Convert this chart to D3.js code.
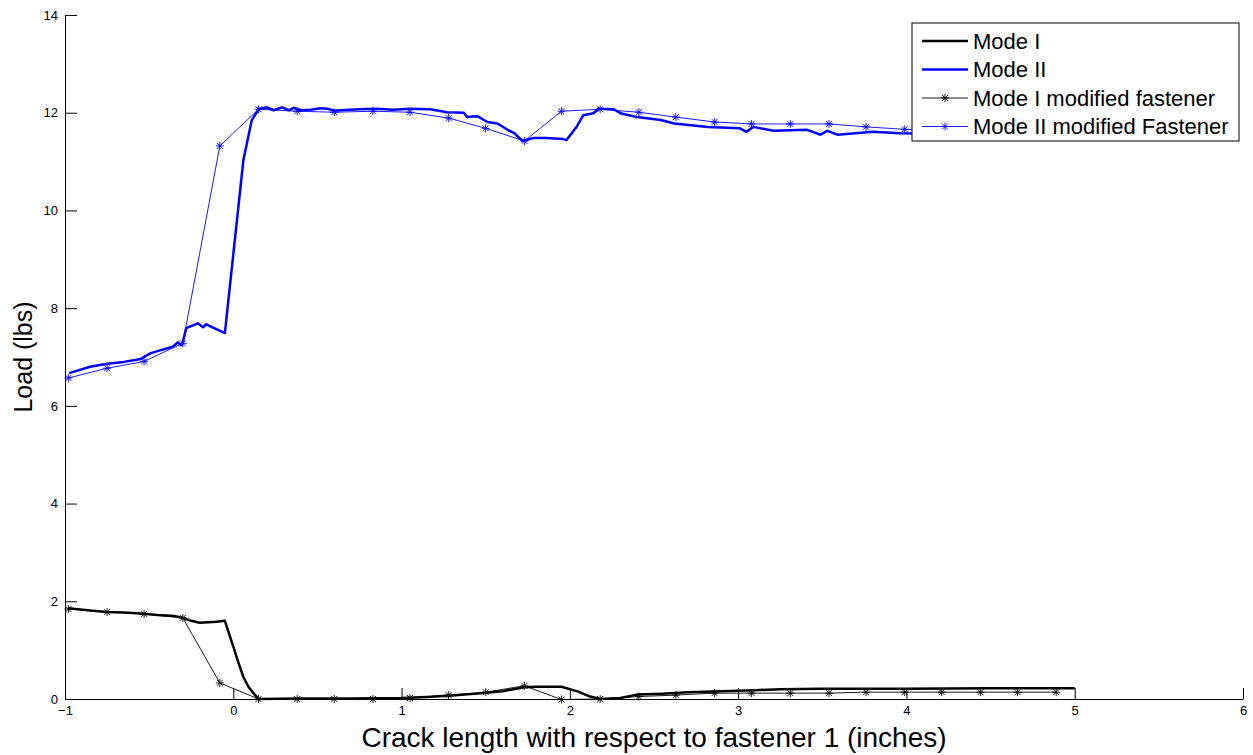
<!DOCTYPE html>
<html>
<head>
<meta charset="utf-8">
<script src="https://cdn.jsdelivr.net/npm/d3@7"></script>
<style>
  body { margin: 0; background: #fff; }
  svg { display: block; font-family: "Liberation Sans", Arial, sans-serif; }
</style>
</head>
<body>
<script>
// crack position (inches) and load (lbs)
var modeI = [
    [-0.98, 1.86], [-0.85, 1.81], [-0.75, 1.78], [-0.65, 1.77], [-0.55, 1.75],
    [-0.45, 1.72], [-0.35, 1.70], [-0.30, 1.66], [-0.25, 1.60], [-0.20, 1.56],
    [-0.15, 1.57], [-0.10, 1.58], [-0.05, 1.60], [0.00, 1.07], [0.03, 0.75],
    [0.06, 0.45], [0.09, 0.25], [0.12, 0.12], [0.15, 0.00], [0.40, 0.01],
    [0.70, 0.01], [1.00, 0.02], [1.15, 0.04], [1.30, 0.07], [1.45, 0.11],
    [1.60, 0.16], [1.73, 0.24], [1.80, 0.25], [1.95, 0.25], [2.05, 0.15],
    [2.12, 0.05], [2.18, 0.00], [2.30, 0.02], [2.40, 0.09], [2.55, 0.11],
    [2.70, 0.14], [2.90, 0.16], [3.10, 0.18], [3.25, 0.20], [3.50, 0.21],
    [4.00, 0.21], [4.50, 0.22], [5.00, 0.22]
];

var modeII = [
    [-0.975, 6.67], [-0.85, 6.80], [-0.75, 6.86], [-0.65, 6.90], [-0.55, 6.96],
    [-0.49, 7.08], [-0.43, 7.14], [-0.36, 7.21], [-0.33, 7.30], [-0.31, 7.24],
    [-0.30, 7.30], [-0.28, 7.59], [-0.21, 7.69], [-0.18, 7.61], [-0.16, 7.67],
    [-0.12, 7.60], [-0.05, 7.49], [0.06, 11.03], [0.11, 11.85], [0.15, 12.07],
    [0.20, 12.11], [0.24, 12.05], [0.29, 12.11], [0.33, 12.05], [0.36, 12.10],
    [0.40, 12.05], [0.46, 12.06], [0.52, 12.09], [0.56, 12.08], [0.60, 12.04],
    [0.64, 12.05], [0.75, 12.07], [0.85, 12.08], [0.95, 12.06], [1.05, 12.08],
    [1.17, 12.07], [1.27, 12.01], [1.37, 12.00], [1.39, 11.91], [1.45, 11.93],
    [1.51, 11.81], [1.57, 11.78], [1.63, 11.65], [1.67, 11.58], [1.72, 11.42],
    [1.78, 11.48], [1.86, 11.48], [1.96, 11.46], [1.98, 11.44], [2.04, 11.71],
    [2.08, 11.95], [2.14, 11.99], [2.17, 12.08], [2.26, 12.07], [2.30, 11.99],
    [2.40, 11.91], [2.54, 11.85], [2.62, 11.78], [2.82, 11.71], [3.01, 11.68],
    [3.05, 11.61], [3.09, 11.71], [3.21, 11.63], [3.41, 11.65], [3.49, 11.55],
    [3.53, 11.63], [3.59, 11.55], [3.80, 11.61], [3.96, 11.58], [4.20, 11.57],
    [4.50, 11.56], [4.80, 11.56], [5.00, 11.55]
];

// the modified fastener runs share one set of crack positions
var modifiedX = [
    -0.98, -0.75, -0.53, -0.30, -0.08, 0.15, 0.38, 0.60, 0.83, 1.05,
    1.28, 1.50, 1.73, 1.95, 2.18, 2.41, 2.63, 2.86, 3.08, 3.31,
    3.54, 3.76, 3.99, 4.21, 4.44, 4.66, 4.89
];
var modeIModified = [
    1.84, 1.78, 1.74, 1.66, 0.33, 0.00, 0.00, 0.00, 0.00, 0.02,
    0.08, 0.14, 0.27, -0.01, 0.00, 0.05, 0.08, 0.12, 0.12, 0.12,
    0.12, 0.14, 0.14, 0.14, 0.14, 0.14, 0.14
];
var modeIIModified = [
    6.57, 6.77, 6.91, 7.28, 11.32, 12.07, 12.03, 12.01, 12.03, 12.01,
    11.89, 11.68, 11.42, 12.03, 12.07, 12.01, 11.91, 11.81, 11.77, 11.77,
    11.77, 11.71, 11.66, 11.63, 11.61, 11.60, 11.58
];

var xTicks = [-1, 0, 1, 2, 3, 4, 5, 6];
var yTicks = [0, 2, 4, 6, 8, 10, 12, 14];

var legendItems = [
    { name: 'Mode I', color: '#000', width: 2.5, marker: false },
    { name: 'Mode II', color: '#0000ff', width: 2.5, marker: false },
    { name: 'Mode I modified fastener', color: '#000', width: 0.9, marker: true },
    { name: 'Mode II modified Fastener', color: '#0000ff', width: 0.9, marker: true }
];

var width = 1253, height = 755;
var margin = { top: 15, right: 10, bottom: 56, left: 65 };

var svg = d3.select('body').append('svg')
    .attr('width', width)
    .attr('height', height);

var x = d3.scaleLinear().domain([-1, 6]).range([margin.left, width - margin.right]);
var y = d3.scaleLinear().domain([0, 14]).range([height - margin.bottom, margin.top]);

// axes, ticks inside the plot area like matlab does
var xAxis = d3.axisBottom(x).tickValues(xTicks).tickFormat(d3.format('d'))
    .tickSizeInner(-11).tickSizeOuter(0).tickPadding(7);
var yAxis = d3.axisLeft(y).tickValues(yTicks).tickFormat(d3.format('d'))
    .tickSizeInner(-12).tickSizeOuter(0).tickPadding(7);

var styleAxis = function(g) {
    g.selectAll('text').attr('font-size', 13).attr('font-family', null).attr('fill', '#000');
    g.selectAll('line, path').attr('stroke', '#000');
};

svg.append('g')
    .attr('transform', 'translate(0,' + y(0) + ')')
    .call(xAxis)
    .call(styleAxis);

svg.append('g')
    .attr('transform', 'translate(' + x(-1) + ',0)')
    .call(yAxis)
    .call(styleAxis);

svg.append('text')
    .attr('x', (x(-1) + x(6)) / 2)
    .attr('y', 747)
    .attr('text-anchor', 'middle')
    .attr('font-size', 28)
    .text('Crack length with respect to fastener 1 (inches)');

svg.append('text')
    .attr('transform', 'translate(32,' + ((y(0) + y(14)) / 2) + ') rotate(-90)')
    .attr('text-anchor', 'middle')
    .attr('font-size', 25)
    .text('Load (lbs)');

var line = d3.line()
    .x(function(d) { return x(d[0]); })
    .y(function(d) { return y(d[1]); });

var star = 'M-4,0H4M0,-4V4M-3,-3L3,3M-3,3L3,-3';

var series = [
    { data: modeI, color: '#000', width: 2.5, marker: false },
    { data: modeII, color: '#0000ff', width: 2.5, marker: false },
    { data: modifiedX.map(function(v, i) { return [v, modeIModified[i]]; }), color: '#000', width: 0.9, marker: true },
    { data: modifiedX.map(function(v, i) { return [v, modeIIModified[i]]; }), color: '#0000ff', width: 0.9, marker: true }
];

series.forEach(function(s) {
    svg.append('path')
        .datum(s.data)
        .attr('fill', 'none')
        .attr('stroke', s.color)
        .attr('stroke-width', s.width)
        .attr('stroke-linejoin', 'round')
        .attr('d', line);

    if (s.marker) {
        svg.selectAll(null)
            .data(s.data)
            .enter().append('path')
            .attr('transform', function(d) { return 'translate(' + x(d[0]) + ',' + y(d[1]) + ')'; })
            .attr('d', star)
            .attr('fill', 'none')
            .attr('stroke', s.color)
            .attr('stroke-width', 0.9);
    }
});

// legend
var lg = svg.append('g').attr('transform', 'translate(912,23)');

lg.append('rect')
    .attr('width', 327)
    .attr('height', 118)
    .attr('fill', '#fff')
    .attr('stroke', '#000')
    .attr('stroke-width', 1);

var rows = lg.selectAll('g.row')
    .data(legendItems)
    .enter().append('g')
    .attr('class', 'row')
    .attr('transform', function(d, i) { return 'translate(0,' + (18 + i * 28.5) + ')'; });

rows.append('line')
    .attr('x1', 10).attr('x2', 56)
    .attr('stroke', function(d) { return d.color; })
    .attr('stroke-width', function(d) { return d.width; });

rows.filter(function(d) { return d.marker; })
    .append('path')
    .attr('transform', 'translate(33,0)')
    .attr('d', star)
    .attr('fill', 'none')
    .attr('stroke', function(d) { return d.color; })
    .attr('stroke-width', 0.9);

rows.append('text')
    .attr('x', 61)
    .attr('dy', '0.35em')
    .attr('font-size', 22)
    .text(function(d) { return d.name; });
</script>
</body>
</html>
